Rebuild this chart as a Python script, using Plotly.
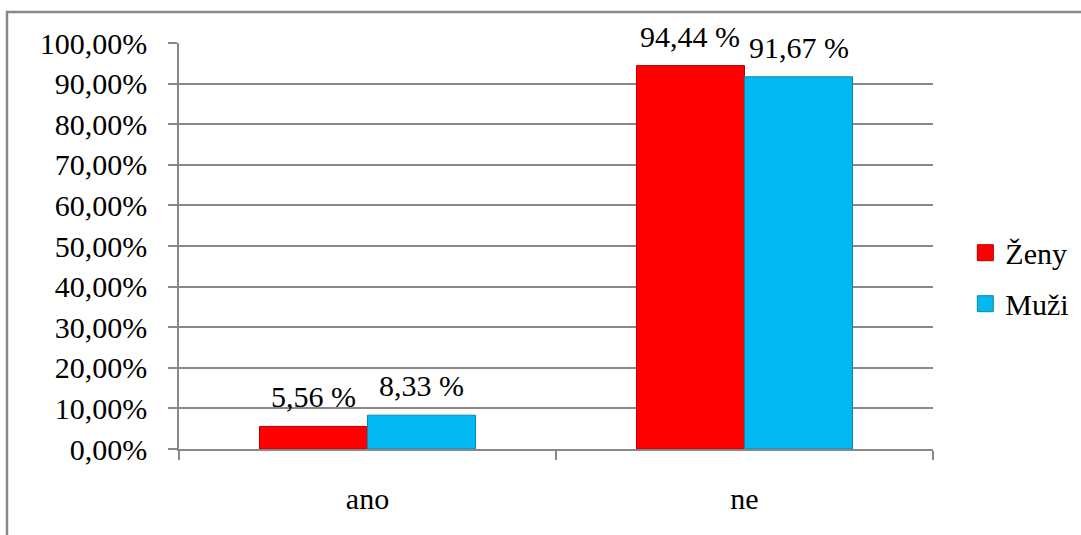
import plotly.graph_objects as go

categories = ["ano", "ne"]
zeny = [5.56, 94.44]
muzi = [8.33, 91.67]
series_names = ["Ženy", "Muži"]
tick_values = [0, 10, 20, 30, 40, 50, 60, 70, 80, 90, 100]
tick_labels = ["0,00%", "10,00%", "20,00%", "30,00%", "40,00%", "50,00%",
               "60,00%", "70,00%", "80,00%", "90,00%", "100,00%"]

RED = "#FF0000"
BLUE = "#04B9F2"
GRID = "#888888"
FONT = "'Liberation Serif', 'Times New Roman', serif"
FS = 30

W, H = 1081, 535
ML, MR, MT, MB = 179, 148, 43, 86
PW = W - ML - MR
PH = H - MT - MB


def label(v):
    return f"{v:.2f}".replace(".", ",") + " %"


fig = go.Figure()
for name, vals, col, edge in [(series_names[0], zeny, RED, "#B80000"),
                              (series_names[1], muzi, BLUE, "#0A86B0")]:
    fig.add_trace(go.Bar(
        x=categories, y=vals, name=name, showlegend=False,
        marker=dict(color=col, line=dict(color=edge, width=1)),
    ))
    # legend swatch
    fig.add_trace(go.Scatter(
        x=[None], y=[None], mode="markers", name=name, legendgroup=name,
        marker=dict(symbol="square", size=17, color=col,
                    line=dict(color=edge, width=1)),
    ))

# value labels above each bar
bar_px = PW / len(categories) * (1 - 0.427) / 2
for vals, side in [(zeny, -1), (muzi, 1)]:
    for i, v in enumerate(vals):
        fig.add_annotation(
            x=i, y=v, xref="x", yref="y", text=label(v), showarrow=False,
            xshift=side * bar_px / 2, yshift=11, yanchor="bottom",
            font=dict(family=FONT, size=FS, color="black"),
        )

# outer chart frame (left and top edges)
x0 = (7 - ML) / PW
y0 = (H - MB - 12) / PH
fig.add_shape(type="path", xref="paper", yref="paper",
              path=f"M {x0} {(H - MB - 540) / PH} L {x0} {y0} L {(1085 - ML) / PW} {y0}",
              line=dict(color=GRID, width=2.5), layer="below")

fig.update_layout(
    width=W, height=H,
    margin=dict(l=ML, r=MR, t=MT, b=MB, autoexpand=False),
    paper_bgcolor="white", plot_bgcolor="white",
    barmode="group", bargap=0.427, bargroupgap=0,
    font=dict(family=FONT, size=FS, color="black"),
    legend=dict(xref="container", yref="container", x=0.893, y=0.48,
                xanchor="left", yanchor="middle",
                traceorder="grouped", tracegroupgap=9,
                font=dict(family=FONT, size=FS, color="black"),
                itemwidth=30, bgcolor="rgba(0,0,0,0)"),
    showlegend=True,
)
fig.update_xaxes(
    showline=True, linecolor=GRID, linewidth=1.5,
    ticks="outside", tickson="boundaries", ticklen=9, tickcolor=GRID, tickwidth=1.5,
    ticklabelstandoff=22, showgrid=False,
)
fig.update_yaxes(
    range=[0, 100], tickmode="array", tickvals=tick_values, ticktext=tick_labels,
    showline=True, linecolor=GRID, linewidth=1.5,
    ticks="outside", ticklen=9, tickcolor=GRID, tickwidth=1.5,
    showgrid=True, gridcolor=GRID, gridwidth=1.5,
    ticklabelstandoff=15, zeroline=False,
)

fig.write_html("out.html")
